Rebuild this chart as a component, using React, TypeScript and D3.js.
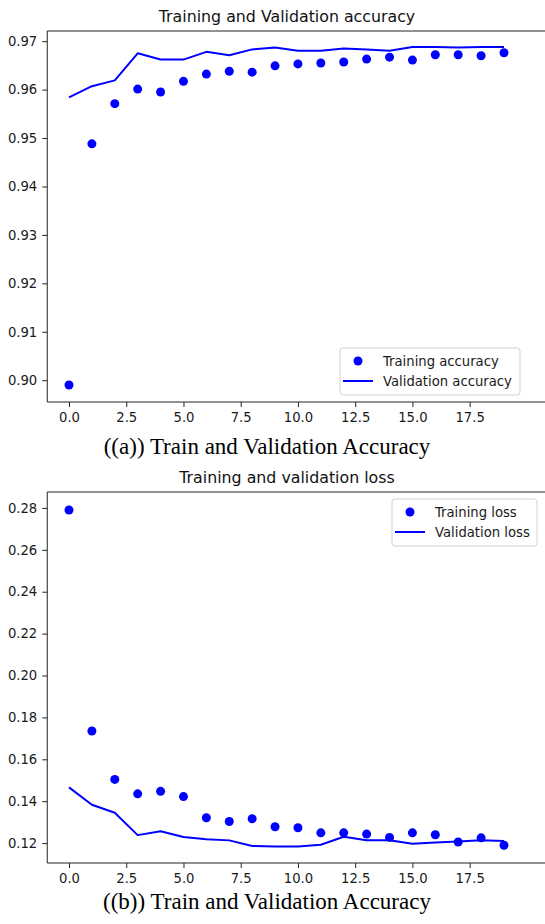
import React from 'react';
import * as d3 from 'd3';

// epochs 0..19
const epochs = d3.range(20);

const trainAcc = [0.8990, 0.9488, 0.9571, 0.9601, 0.9595, 0.9617, 0.9632, 0.9638, 0.9636, 0.9649,
  0.9653, 0.9655, 0.9657, 0.9663, 0.9667, 0.9661, 0.9672, 0.9672, 0.9670, 0.9676];
const valAcc = [0.9584, 0.9607, 0.9619, 0.9675, 0.9662, 0.9662, 0.9678, 0.9671, 0.9683, 0.9687,
  0.9680, 0.9680, 0.9685, 0.9683, 0.9680, 0.9688, 0.9688, 0.9687, 0.9688, 0.9688];

const trainLoss = [0.2790, 0.1735, 0.1504, 0.1435, 0.1447, 0.1422, 0.1321, 0.1303, 0.1316, 0.1278,
  0.1273, 0.1249, 0.1249, 0.1243, 0.1227, 0.1249, 0.1240, 0.1205, 0.1225, 0.1190];
const valLoss = [0.1466, 0.1383, 0.1345, 0.1238, 0.1257, 0.1229, 0.1218, 0.1213, 0.1186, 0.1184,
  0.1184, 0.1192, 0.1230, 0.1214, 0.1214, 0.1197, 0.1203, 0.1208, 0.1214, 0.1210];

const xTicks = [0, 2.5, 5, 7.5, 10, 12.5, 15, 17.5];
const accTicks = [0.90, 0.91, 0.92, 0.93, 0.94, 0.95, 0.96, 0.97];
const lossTicks = [0.12, 0.14, 0.16, 0.18, 0.20, 0.22, 0.24, 0.26, 0.28];

const W = 545, H = 924;
const BLUE = '#0000ff';
const SANS = '"DejaVu Sans", sans-serif';

function App() {
  const svgRef = React.useRef(null);

  React.useEffect(() => {
    const svg = d3.select(svgRef.current);
    svg.selectAll('*').remove();

    const xScale = d3.scaleLinear().domain([0, 19]).range([69, 504]);
    const left = xScale(-0.95);

    function panel(opts) {
      const { top, bottom, yDomain, yTicks, train, val, title, titleY, legend, caption, captionY } = opts;
      const y = d3.scaleLinear().domain(yDomain).range([bottom, top]);
      const g = svg.append('g');

      // title
      g.append('text')
        .attr('x', 287).attr('y', titleY)
        .attr('text-anchor', 'middle')
        .attr('font-family', SANS).attr('font-size', 15.8)
        .attr('fill', '#111')
        .text(title);

      // axes
      const xAxis = d3.axisBottom(xScale).tickValues(xTicks).tickFormat(d3.format('.1f'))
        .tickSize(5).tickPadding(6);
      const xg = g.append('g').attr('transform', `translate(0,${bottom})`).call(xAxis);
      xg.select('.domain').remove();
      const yAxis = d3.axisLeft(y).tickValues(yTicks).tickFormat(d3.format('.2f'))
        .tickSize(5).tickPadding(5);
      const yg = g.append('g').attr('transform', `translate(${left},0)`).call(yAxis);
      yg.select('.domain').remove();
      [xg, yg].forEach(a => {
        a.selectAll('line').attr('stroke', '#222');
        a.selectAll('text').attr('font-family', SANS).attr('font-size', 13.2).attr('fill', '#1a1a1a');
      });

      // spines (figure is cut at the right edge)
      g.append('line').attr('x1', left).attr('x2', W + 5).attr('y1', top).attr('y2', top)
        .attr('stroke', '#222').attr('stroke-width', 1);
      g.append('line').attr('x1', left).attr('x2', W + 5).attr('y1', bottom).attr('y2', bottom)
        .attr('stroke', '#222').attr('stroke-width', 1);
      g.append('line').attr('x1', left).attr('x2', left).attr('y1', top).attr('y2', bottom)
        .attr('stroke', '#222').attr('stroke-width', 1);

      // validation line
      const line = d3.line().x((d, i) => xScale(epochs[i])).y(d => y(d));
      g.append('path').attr('d', line(val))
        .attr('fill', 'none').attr('stroke', BLUE).attr('stroke-width', 2)
        .attr('stroke-linejoin', 'round');

      // training points
      g.selectAll('.dot').data(train).enter().append('circle')
        .attr('cx', (d, i) => xScale(epochs[i])).attr('cy', d => y(d))
        .attr('r', 4.5).attr('fill', BLUE);

      // legend
      const lg = g.append('g').attr('transform', `translate(${legend.x},${legend.y})`);
      lg.append('rect').attr('width', legend.w).attr('height', 47).attr('rx', 3)
        .attr('fill', 'white').attr('fill-opacity', 0.8)
        .attr('stroke', '#d0d0d0').attr('stroke-width', 1);
      lg.append('circle').attr('cx', 18).attr('cy', 13).attr('r', 4.5).attr('fill', BLUE);
      lg.append('line').attr('x1', 3).attr('x2', 33).attr('y1', 33).attr('y2', 33)
        .attr('stroke', BLUE).attr('stroke-width', 2);
      lg.append('text').attr('x', 43).attr('y', 17.5)
        .attr('font-family', SANS).attr('font-size', 13.2).attr('fill', '#1a1a1a').text(legend.labels[0]);
      lg.append('text').attr('x', 43).attr('y', 38)
        .attr('font-family', SANS).attr('font-size', 13.2).attr('fill', '#1a1a1a').text(legend.labels[1]);

      // caption
      svg.append('text').attr('x', 267).attr('y', captionY)
        .attr('text-anchor', 'middle')
        .attr('font-family', '"Liberation Serif", "Times New Roman", serif')
        .attr('font-size', 23).attr('fill', '#000')
        .text(caption);
    }

    panel({
      top: 31, bottom: 402, yDomain: [0.8955, 0.9721], yTicks: accTicks,
      train: trainAcc, val: valAcc,
      title: 'Training and Validation accuracy', titleY: 22,
      legend: { x: 340, y: 348, w: 180, labels: ['Training accuracy', 'Validation accuracy'] },
      caption: '((a)) Train and Validation Accuracy', captionY: 454,
    });

    panel({
      top: 492, bottom: 863, yDomain: [0.1105, 0.2876], yTicks: lossTicks,
      train: trainLoss, val: valLoss,
      title: 'Training and validation loss', titleY: 483,
      legend: { x: 392, y: 499, w: 145, labels: ['Training loss', 'Validation loss'] },
      caption: '((b)) Train and Validation Accuracy', captionY: 909,
    });
  }, []);

  return (
    <svg ref={svgRef} width={W} height={H}
      style={{ position: 'absolute', left: 0, top: 0, background: 'white' }} />
  );
}

export default App;
